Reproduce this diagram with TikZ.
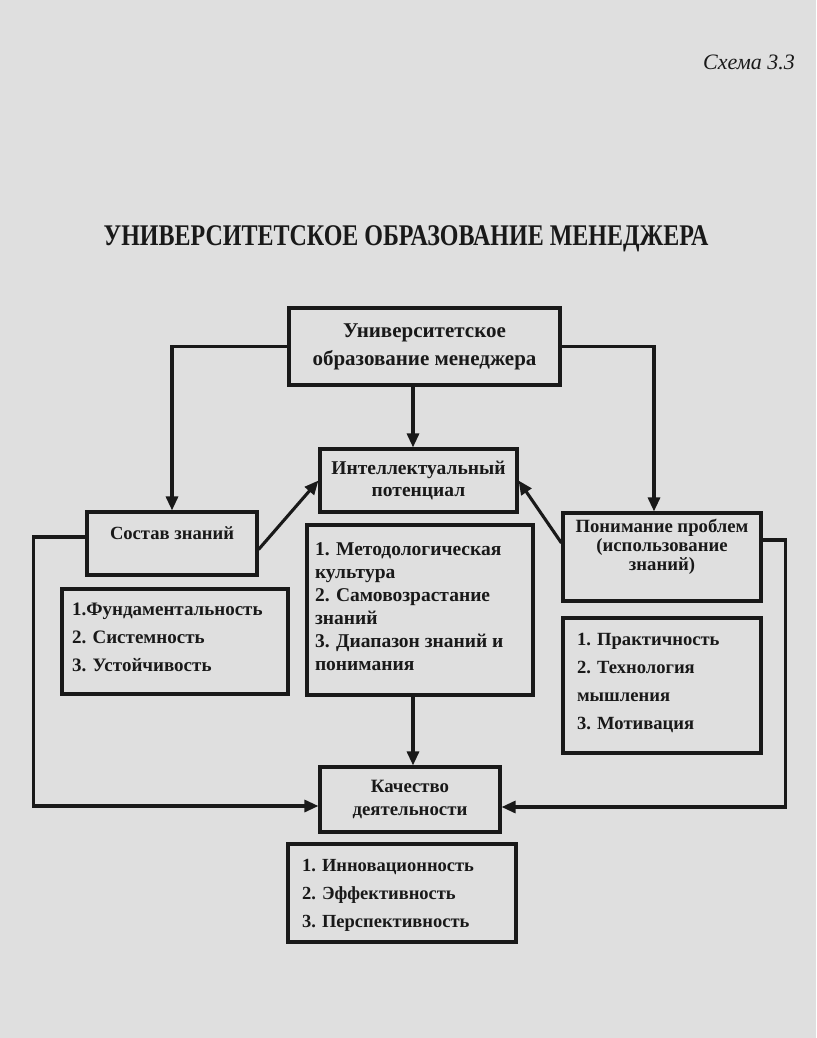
\documentclass[tikz,border=0pt]{standalone}
\usepackage{fontspec}
\setmainfont{Liberation Serif}
\usetikzlibrary{arrows.meta}
\definecolor{bg}{gray}{0.875}
\definecolor{ink}{gray}{0.1}
\newcommand\fs[2]{\bfseries\fontsize{#1}{#2}\selectfont}
\tikzset{
  box/.style={draw=ink, line width=3.1pt, inner sep=0pt, text=ink,
    font=\fs{19}{28}, align=center},
  arr/.style={draw=ink, line width=3.1pt, -{Triangle[length=14pt,width=12pt]}},
  title/.style={text=ink, font=\bfseries\fontsize{30}{34}\selectfont, inner sep=0pt},
  caption/.style={text=ink, font=\itshape\fontsize{22}{26}\selectfont, inner sep=0pt},
}
\begin{document}
\begin{tikzpicture}[x=1pt,y=-1pt]
\path[fill=bg] (0,0) rectangle (816,1038);

\node[caption, anchor=base east] (cap) at (795,70) {Схема 3.3};
\node[title, anchor=base] (head) at (406,245) {\scalebox{0.8}[1]{УНИВЕРСИТЕТСКОЕ ОБРАЗОВАНИЕ МЕНЕДЖЕРА}};

% boxes
\node[box, minimum width=271pt, minimum height=77pt, font=\fs{21}{28}] (top) at (424.5,346.5)
  {Университетское\\образование менеджера};
\node[box, minimum width=197pt, minimum height=63pt, font=\fs{19.5}{22}] (intel) at (418.5,480.5)
  {Интеллектуальный\\потенциал};
\node[box, font=\fs{18.6}{22}] (sost) at (172,543.5)
  {\parbox[c][63pt][t]{170pt}{\centering\rule{0pt}{27pt}Состав знаний}};
\node[box, font=\fs{18.7}{19}] (pon) at (662,557)
  {\parbox[c][88pt][t]{198pt}{\centering\rule{0pt}{19pt}Понимание проблем\\(использование\\знаний)}};
\node[box, font=\fs{19}{28}] (fund) at (175,641.5)
  {\parbox[c][105pt][t]{226pt}{\raggedright\leftskip=10pt\rule{0pt}{26pt}1.Фундаментальность\\2. Системность\\3. Устойчивость}};
\node[box, font=\fs{19.5}{23}] (metod) at (420,610)
  {\parbox[c][170pt][t]{226pt}{\raggedright\leftskip=8pt\rule{0pt}{30pt}1. Методологическая\\культура\\2. Самовозрастание\\знаний\\3. Диапазон знаний и\\понимания}};
\node[box, font=\fs{18.6}{28}] (prakt) at (662,685.5)
  {\parbox[c][135pt][t]{198pt}{\raggedright\leftskip=14pt\rule{0pt}{27pt}1. Практичность\\2. Технология\\мышления\\3. Мотивация}};
\node[box, minimum width=180pt, minimum height=65pt, font=\fs{18.8}{23}] (kach) at (410,799.5)
  {Качество\\деятельности};
\node[box, font=\fs{18.5}{28}] (innov) at (402,893)
  {\parbox[c][98pt][t]{228pt}{\raggedright\leftskip=14pt\rule{0pt}{27pt}1. Инновационность\\2. Эффективность\\3. Перспективность}};

% helper coordinates
\coordinate (xv) at (413,0);
\coordinate (xr) at (654,0);

% connectors
\draw[arr] (top.west) -| (sost.north);
\draw[arr] (top.east) -| (xr |- pon.north);
\draw[arr] (top.south -| xv) -- (intel.north -| xv);
\draw[arr] ([yshift=-6pt]sost.east) -- (intel.west);
\draw[arr] ([yshift=14pt]pon.west) -- (intel.east);
\draw[arr] ([yshift=6.5pt]sost.west) -- ++(-52,0) |- ([yshift=-6.5pt]kach.west);
\draw[arr] ([yshift=17pt]pon.east) -- ++(23,0) |- ([yshift=-7.5pt]kach.east);
\draw[arr] (metod.south -| xv) -- (kach.north -| xv);
\end{tikzpicture}
\end{document}
